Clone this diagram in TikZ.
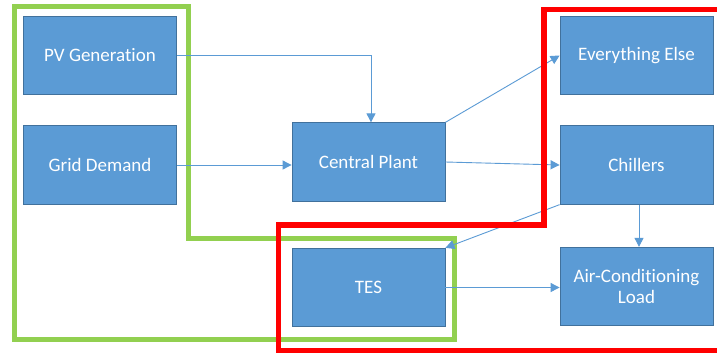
\documentclass[tikz,border=0pt]{standalone}
\usepackage{fontspec}
\setmainfont[Ligatures=NoCommon]{Carlito}
\usetikzlibrary{arrows.meta}
\definecolor{boxfill}{HTML}{5B9BD5}
\definecolor{boxline}{HTML}{41719C}
\definecolor{arr}{HTML}{5B9BD5}
\definecolor{grn}{HTML}{92D050}
\definecolor{rd}{HTML}{FF0000}
\tikzset{
  blk/.style={rectangle, fill=boxfill, draw=boxline, line width=0.8pt,
    minimum width=153pt, minimum height=78.5pt, inner sep=0pt,
    text=white, align=center, font=\fontsize{19}{23}\selectfont},
  conn/.style={draw=arr, line width=0.9pt, -{Triangle[length=9pt,width=9pt]}},
  grnline/.style={draw=grn, line width=5pt},
  redline/.style={draw=rd, line width=5.5pt}
}
\begin{document}
\begin{tikzpicture}[x=1pt,y=-1pt]
\useasboundingbox (0,0) rectangle (717,356);
\clip (0,0) rectangle (717,356);
\fill[white] (0,0) rectangle (717,356);
% green outline
\draw[grnline] (14,6.5) -- (188,6.5) -- (188,238.5) -- (454.5,238.5) -- (454.5,339.5) -- (14,339.5) -- cycle;
% boxes
\node[blk] (pv) at (100,55.5) {PV Generation};
\node[blk] (grid) at (100,165) {Grid Demand};
\node[blk] (cp) at (368.5,162) {Central Plant};
\node[blk] (tes) at (368.5,287.5) {TES};
\node[blk] (ee) at (636.5,55.5) {Everything Else};
\node[blk] (ch) at (636.5,165) {Chillers};
\node[blk] (ac) at (636.5,286.5) {Air-Conditioning\\[-2pt]Load};
% connectors
\draw[conn] (pv.east) -- (371,55.5) -- (371,0 |- cp.north);
\draw[conn] (grid.east) -- (cp.west |- grid.east);
\draw[conn] (cp.north east) -- (ee.west);
\draw[conn] (cp.east) -- (ch.west);
\draw[conn] (ch.south west) -- (tes.north east);
\draw[conn] (639,0 |- ch.south) -- (639,0 |- ac.north);
\draw[conn] (tes.east) -- (tes.east -| ac.west);
% red outline
\draw[redline] (730,9.5) -- (544,9.5) -- (544,225) -- (278.5,225) -- (278.5,350.5) -- (730,350.5);
\end{tikzpicture}
\end{document}
